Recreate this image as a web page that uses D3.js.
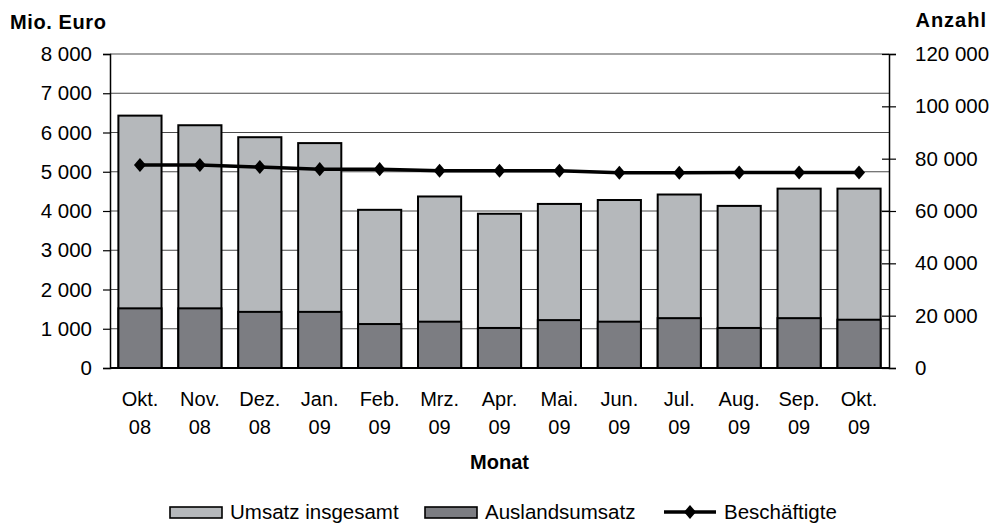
<!DOCTYPE html>
<html>
<head>
<meta charset="utf-8">
<script src="https://cdn.jsdelivr.net/npm/d3@7"></script>
<style>
  body { margin: 0; background: #fff; }
  svg text { font-family: "Liberation Sans", Arial, sans-serif; fill: #000; }
</style>
</head>
<body>
<div id="chart"></div>
<script>
const months = ["Okt.", "Nov.", "Dez.", "Jan.", "Feb.", "Mrz.", "Apr.", "Mai.", "Jun.", "Jul.", "Aug.", "Sep.", "Okt."];
const years = ["08", "08", "08", "09", "09", "09", "09", "09", "09", "09", "09", "09", "09"];
const umsatz = [6430, 6185, 5880, 5730, 4030, 4370, 3930, 4180, 4280, 4420, 4130, 4570, 4570];
const ausland = [1520, 1520, 1430, 1430, 1120, 1180, 1020, 1220, 1180, 1270, 1020, 1270, 1230];
const beschaeftigte = [77600, 77600, 76800, 76000, 76000, 75400, 75400, 75400, 74600, 74600, 74700, 74700, 74700];
const leftTicks = [0, 1000, 2000, 3000, 4000, 5000, 6000, 7000, 8000];
const rightTicks = [0, 20000, 40000, 60000, 80000, 100000, 120000];

const width = 989, height = 526;
const margin = {top: 54, right: 100, bottom: 158, left: 110};
const plotW = width - margin.left - margin.right;
const plotH = height - margin.top - margin.bottom;

const fmt = v => d3.format(",")(v).replace(/,/g, " ");

const svg = d3.select("#chart").append("svg")
    .attr("width", width)
    .attr("height", height);

const g = svg.append("g")
    .attr("transform", `translate(${margin.left},${margin.top})`);

const idx = months.map((d, i) => i);
const x = d3.scaleBand().domain(idx).range([0, plotW]).paddingInner(0.28).paddingOuter(0.14);
const yL = d3.scaleLinear().domain([0, 8000]).range([plotH, 0]);
const yR = d3.scaleLinear().domain([0, 120000]).range([plotH, 0]);

// diamond marker, a bit wider than d3's own
const diamondType = {
    draw(ctx, size) {
        const h = Math.sqrt(size) / 2, w = h * 0.85;
        ctx.moveTo(0, -h); ctx.lineTo(w, 0); ctx.lineTo(0, h); ctx.lineTo(-w, 0); ctx.closePath();
    }
};
const diamond = d3.symbol().type(diamondType).size(200);

// gridlines
g.append("g").selectAll("line").data(leftTicks.filter(d => d > 0))
    .join("line")
    .attr("x1", 0).attr("x2", plotW)
    .attr("y1", d => yL(d)).attr("y2", d => yL(d))
    .attr("stroke", "#4a4a4a").attr("stroke-width", 1.2);

// bars (Auslandsumsatz is part of the total, so drawn over it from zero)
g.append("g").selectAll("rect").data(idx)
    .join("rect")
    .attr("x", i => x(i))
    .attr("width", x.bandwidth())
    .attr("y", i => yL(umsatz[i]))
    .attr("height", i => yL(0) - yL(umsatz[i]))
    .attr("fill", "#b5b8bb")
    .attr("stroke", "#000").attr("stroke-width", 2);

g.append("g").selectAll("rect").data(idx)
    .join("rect")
    .attr("x", i => x(i))
    .attr("width", x.bandwidth())
    .attr("y", i => yL(ausland[i]))
    .attr("height", i => yL(0) - yL(ausland[i]))
    .attr("fill", "#7c7d82")
    .attr("stroke", "#000").attr("stroke-width", 2);

// left axis
const leftAxis = g.append("g")
    .call(d3.axisLeft(yL).tickValues(leftTicks).tickSize(7).tickPadding(11).tickFormat(fmt));
leftAxis.select(".domain").attr("stroke", "#000").attr("stroke-width", 1.5);
leftAxis.selectAll(".tick line").attr("stroke", "#000").attr("stroke-width", 1.2);
leftAxis.selectAll("text").style("font-size", "20.5px");

// right axis
const rightAxis = g.append("g")
    .attr("transform", `translate(${plotW},0)`)
    .call(d3.axisRight(yR).tickValues(rightTicks).tickSize(7).tickPadding(19).tickFormat(fmt));
rightAxis.select(".domain").attr("stroke", "#000").attr("stroke-width", 1.5);
rightAxis.selectAll(".tick line").attr("x1", -7).attr("stroke", "#000").attr("stroke-width", 1.2);
rightAxis.selectAll("text").style("font-size", "20.5px");

// bottom axis line
g.append("line")
    .attr("x1", 0).attr("x2", plotW)
    .attr("y1", plotH).attr("y2", plotH)
    .attr("stroke", "#000").attr("stroke-width", 2);

// category labels
const cat = g.append("g").selectAll("text").data(idx).join("text")
    .attr("text-anchor", "middle")
    .style("font-size", "20px");
cat.append("tspan").attr("x", i => x(i) + x.bandwidth() / 2).attr("y", plotH + 38).text(i => months[i]);
cat.append("tspan").attr("x", i => x(i) + x.bandwidth() / 2).attr("y", plotH + 66).text(i => years[i]);

// line
const line = d3.line()
    .x(i => x(i) + x.bandwidth() / 2)
    .y(i => yR(beschaeftigte[i]));
g.append("path").datum(idx)
    .attr("d", line)
    .attr("fill", "none")
    .attr("stroke", "#000").attr("stroke-width", 3.5);

g.append("g").selectAll("path").data(idx).join("path")
    .attr("transform", i => `translate(${x(i) + x.bandwidth() / 2},${yR(beschaeftigte[i])})`)
    .attr("d", diamond)
    .attr("fill", "#000");

// titles
svg.append("text").attr("x", 10).attr("y", 29)
    .style("font-size", "20px").style("font-weight", "bold").style("letter-spacing", "0.6px").text("Mio. Euro");
svg.append("text").attr("x", 987).attr("y", 27).attr("text-anchor", "end")
    .style("font-size", "20px").style("font-weight", "bold").style("letter-spacing", "1px").text("Anzahl");
svg.append("text").attr("x", margin.left + plotW / 2).attr("y", 469).attr("text-anchor", "middle")
    .style("font-size", "20px").style("font-weight", "bold").text("Monat");

// legend
const legend = svg.append("g").attr("transform", "translate(0,512)");
const legendItems = [
    {label: "Umsatz insgesamt", x: 170, type: "rect", fill: "#b5b8bb"},
    {label: "Auslandsumsatz", x: 425, type: "rect", fill: "#7c7d82"},
    {label: "Beschäftigte", x: 664, type: "line"}
];
legendItems.forEach(it => {
    if (it.type === "rect") {
        legend.append("rect").attr("x", it.x).attr("y", -5).attr("width", 52).attr("height", 11)
            .attr("fill", it.fill).attr("stroke", "#000").attr("stroke-width", 1.6);
    } else {
        legend.append("line").attr("x1", it.x).attr("x2", it.x + 52).attr("y1", 0).attr("y2", 0)
            .attr("stroke", "#000").attr("stroke-width", 3.5);
        legend.append("path").attr("transform", `translate(${it.x + 26},0)`)
            .attr("d", diamond).attr("fill", "#000");
    }
    legend.append("text").attr("x", it.x + 60).attr("y", 7)
        .style("font-size", "20.5px").text(it.label);
});
</script>
</body>
</html>
